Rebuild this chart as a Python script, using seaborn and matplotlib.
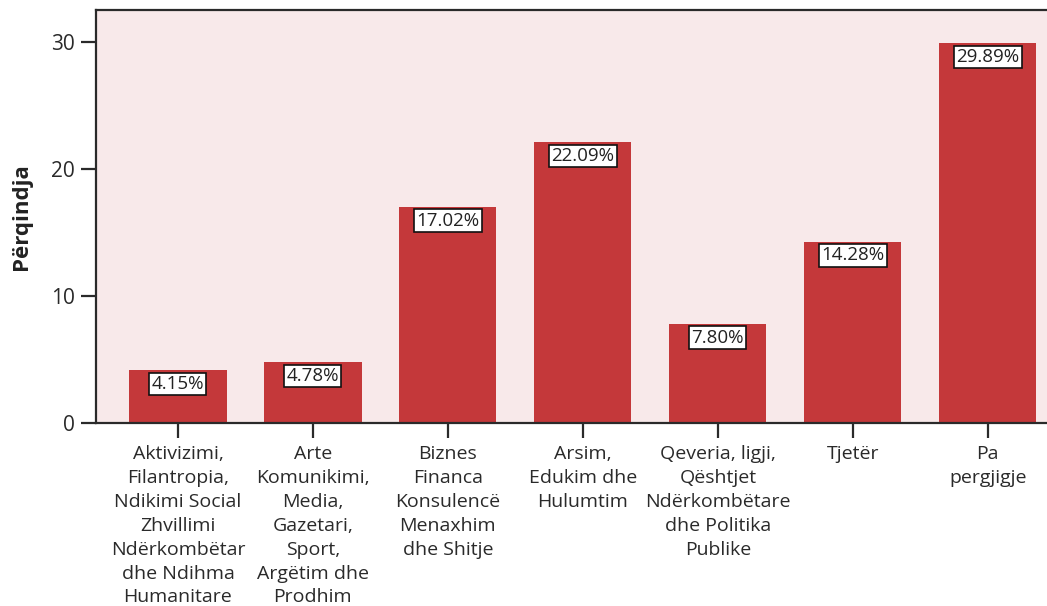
import matplotlib
matplotlib.use("Agg")
import matplotlib.pyplot as plt
import seaborn as sns
import pandas as pd

categories = [
    "Aktivizimi,\nFilantropia,\nNdikimi Social\nZhvillimi\nNdërkombëtar\ndhe Ndihma\nHumanitare",
    "Arte\nKomunikimi,\nMedia,\nGazetari,\nSport,\nArgëtim dhe\nProdhim",
    "Biznes\nFinanca\nKonsulencë\nMenaxhim\ndhe Shitje",
    "Arsim,\nEdukim dhe\nHulumtim",
    "Qeveria, ligji,\nQështjet\nNdërkombëtare\ndhe Politika\nPublike",
    "Tjetër",
    "Pa\npergjigje",
]
percentages = [4.15, 4.78, 17.02, 22.09, 7.80, 14.28, 29.89]
y_ticks = [0, 10, 20, 30]

sns.set_theme(style="white")
plt.rcParams["font.family"] = ["Open Sans", "DejaVu Sans"]

df = pd.DataFrame({"kategoria": categories, "perqindja": percentages})

fig = plt.figure(figsize=(10.47, 6.06), dpi=100)
ax = fig.add_axes([0.0917, 0.302, 0.930, 0.6815])
ax.set_facecolor("#F8E9EA")

sns.barplot(data=df, x="kategoria", y="perqindja", color="#C4383A",
            saturation=1, width=0.72, linewidth=0, edgecolor="none", ax=ax)

for patch, val in zip(ax.patches, percentages):
    cx = patch.get_x() + patch.get_width() / 2
    ax.annotate(f"{val:.2f}%", xy=(cx, patch.get_height()), xytext=(0, -3.5),
                textcoords="offset points", ha="center", va="top",
                fontsize=13.5, color="#222222",
                bbox=dict(boxstyle="square,pad=0.12", fc="white",
                          ec="#111111", lw=1.2))

ax.set_xlim(-0.607, 6.607)
ax.set_ylim(0, 32.5)
ax.set_yticks(y_ticks)
ax.set_xlabel("")
ax.set_ylabel("Përqindja", fontsize=16, fontweight="bold", labelpad=14,
              color="#222222")

for side in ["left", "bottom", "top"]:
    ax.spines[side].set_color("#2a2a2a")
    ax.spines[side].set_linewidth(1.6)
ax.spines["right"].set_visible(False)

ax.tick_params(axis="both", which="both", direction="out", length=11,
               width=1.6, color="#2a2a2a", labelcolor="#2a2a2a",
               labelsize=14, left=True, bottom=True)
ax.tick_params(axis="y", labelsize=15, pad=4)
ax.tick_params(axis="x", pad=5)
for lbl in ax.get_xticklabels():
    lbl.set_linespacing(1.42)
    lbl.set_ha("center")

fig.savefig("out.png", dpi=100)
